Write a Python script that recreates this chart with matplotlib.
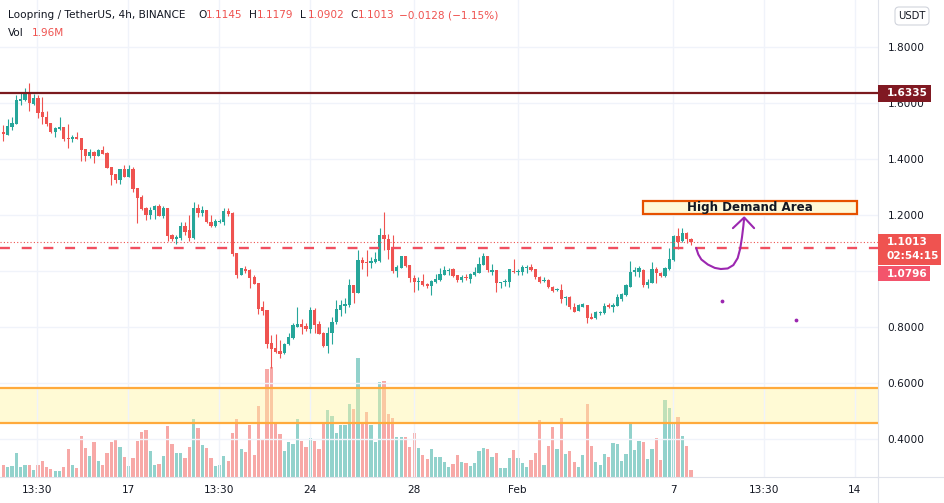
import numpy as np
import matplotlib.pyplot as plt
from matplotlib.patches import Rectangle, FancyBboxPatch
from matplotlib.lines import Line2D
from matplotlib.transforms import IdentityTransform

# ---- LRC/USDT 4h candles ----
opens = [1.496, 1.485, 1.514, 1.524, 1.607, 1.610, 1.636, 1.595, 1.616, 1.567,
         1.550, 1.529, 1.496, 1.505, 1.514, 1.474, 1.471, 1.476, 1.474, 1.433,
         1.410, 1.425, 1.410, 1.431, 1.421, 1.369, 1.345, 1.324, 1.363, 1.336,
         1.363, 1.294, 1.264, 1.225, 1.199, 1.217, 1.231, 1.195, 1.225, 1.127,
         1.113, 1.118, 1.159, 1.145, 1.118, 1.223, 1.207, 1.217, 1.174, 1.161,
         1.174, 1.174, 1.212, 1.207, 1.062, 0.984, 1.006, 1.002, 0.976, 0.956,
         0.869, 0.859, 0.740, 0.723, 0.713, 0.705, 0.737, 0.758, 0.800, 0.808,
         0.802, 0.792, 0.859, 0.809, 0.776, 0.731, 0.776, 0.815, 0.859, 0.875,
         0.877, 0.949, 0.921, 1.038, 1.032, 1.029, 1.032, 1.035, 1.127, 1.115,
         1.077, 0.999, 1.011, 1.052, 1.020, 0.975, 0.960, 0.964, 0.952, 0.945,
         0.960, 0.967, 0.985, 0.999, 1.005, 0.985, 0.967, 0.979, 0.970, 0.985,
         0.993, 1.020, 1.054, 0.996, 1.002, 0.955, 0.958, 0.959, 0.999, 0.994,
         0.996, 1.008, 1.014, 1.006, 0.978, 0.963, 0.967, 0.943, 0.930, 0.931,
         0.901, 0.907, 0.871, 0.857, 0.871, 0.877, 0.836, 0.830, 0.849, 0.849,
         0.877, 0.871, 0.874, 0.898, 0.913, 0.943, 0.996, 0.996, 1.002, 0.949,
         0.957, 1.006, 0.993, 0.981, 1.006, 1.038, 1.124, 1.106, 1.136, 1.1145]
highs = [1.520, 1.542, 1.550, 1.627, 1.633, 1.651, 1.669, 1.631, 1.627, 1.621,
         1.571, 1.529, 1.514, 1.550, 1.514, 1.524, 1.485, 1.494, 1.474, 1.433,
         1.435, 1.429, 1.435, 1.445, 1.425, 1.371, 1.347, 1.365, 1.377, 1.377,
         1.371, 1.294, 1.270, 1.229, 1.227, 1.235, 1.238, 1.231, 1.225, 1.131,
         1.127, 1.174, 1.174, 1.199, 1.244, 1.238, 1.231, 1.217, 1.199, 1.183,
         1.183, 1.223, 1.224, 1.209, 1.062, 1.008, 1.017, 1.005, 0.984, 0.956,
         0.892, 0.859, 0.770, 0.774, 0.752, 0.743, 0.778, 0.812, 0.869, 0.826,
         0.814, 0.869, 0.865, 0.821, 0.782, 0.800, 0.833, 0.895, 0.897, 0.901,
         0.969, 0.949, 1.074, 1.048, 1.074, 1.050, 1.068, 1.151, 1.208, 1.131,
         1.127, 1.020, 1.052, 1.052, 1.020, 0.985, 0.979, 0.988, 0.957, 0.967,
         0.988, 1.008, 1.017, 1.008, 1.008, 0.985, 0.985, 0.988, 0.993, 1.014,
         1.048, 1.062, 1.054, 1.024, 1.002, 0.961, 0.969, 1.005, 1.042, 1.005,
         1.020, 1.020, 1.024, 1.006, 0.981, 0.976, 0.969, 0.945, 0.937, 0.952,
         0.909, 0.909, 0.883, 0.880, 0.886, 0.877, 0.850, 0.856, 0.856, 0.886,
         0.883, 0.886, 0.917, 0.921, 0.951, 1.036, 1.012, 1.017, 1.006, 0.969,
         1.032, 1.014, 0.996, 1.012, 1.080, 1.127, 1.151, 1.151, 1.139, 1.1179]
lows = [1.463, 1.485, 1.502, 1.524, 1.592, 1.606, 1.571, 1.592, 1.546, 1.524,
        1.518, 1.493, 1.479, 1.502, 1.464, 1.438, 1.461, 1.469, 1.392, 1.392,
        1.404, 1.386, 1.410, 1.417, 1.366, 1.306, 1.312, 1.310, 1.333, 1.333,
        1.282, 1.169, 1.217, 1.181, 1.185, 1.185, 1.195, 1.189, 1.106, 1.106,
        1.095, 1.109, 1.127, 1.107, 1.112, 1.193, 1.195, 1.169, 1.155, 1.155,
        1.169, 1.164, 1.195, 1.053, 0.975, 0.984, 0.993, 0.939, 0.951, 0.844,
        0.842, 0.723, 0.652, 0.705, 0.687, 0.702, 0.734, 0.756, 0.798, 0.774,
        0.786, 0.778, 0.778, 0.774, 0.726, 0.707, 0.738, 0.809, 0.838, 0.850,
        0.869, 0.886, 0.919, 1.005, 0.981, 1.008, 1.026, 1.032, 1.074, 1.041,
        0.993, 0.979, 1.008, 1.014, 0.961, 0.925, 0.931, 0.945, 0.937, 0.913,
        0.955, 0.964, 0.985, 0.985, 0.976, 0.961, 0.961, 0.967, 0.957, 0.981,
        0.993, 1.020, 0.996, 0.985, 0.925, 0.937, 0.945, 0.941, 0.991, 0.985,
        0.984, 0.993, 0.999, 0.972, 0.957, 0.961, 0.937, 0.925, 0.928, 0.886,
        0.877, 0.862, 0.853, 0.857, 0.869, 0.812, 0.826, 0.829, 0.842, 0.845,
        0.865, 0.853, 0.874, 0.893, 0.909, 0.940, 0.981, 0.978, 0.943, 0.937,
        0.957, 0.955, 0.976, 0.976, 1.002, 1.036, 1.076, 1.103, 1.098, 1.0902]
closes = [1.487, 1.517, 1.529, 1.610, 1.614, 1.636, 1.600, 1.616, 1.564, 1.550,
          1.524, 1.496, 1.511, 1.514, 1.470, 1.471, 1.479, 1.470, 1.431, 1.410,
          1.425, 1.410, 1.431, 1.417, 1.368, 1.342, 1.324, 1.363, 1.336, 1.363,
          1.291, 1.261, 1.220, 1.199, 1.217, 1.231, 1.195, 1.225, 1.125, 1.113,
          1.121, 1.159, 1.139, 1.118, 1.223, 1.205, 1.217, 1.174, 1.161, 1.176,
          1.177, 1.214, 1.202, 1.059, 0.984, 1.008, 0.999, 0.975, 0.952, 0.863,
          0.857, 0.738, 0.720, 0.708, 0.702, 0.738, 0.764, 0.806, 0.809, 0.800,
          0.792, 0.859, 0.806, 0.774, 0.731, 0.776, 0.815, 0.863, 0.877, 0.881,
          0.949, 0.921, 1.038, 1.029, 1.029, 1.035, 1.042, 1.127, 1.115, 1.074,
          0.999, 1.014, 1.052, 1.018, 0.973, 0.961, 0.963, 0.949, 0.945, 0.964,
          0.970, 0.988, 1.002, 1.002, 0.981, 0.967, 0.979, 0.974, 0.988, 0.996,
          1.024, 1.054, 1.002, 1.004, 0.955, 0.961, 0.962, 1.005, 0.994, 1.000,
          1.014, 1.014, 1.002, 0.976, 0.961, 0.967, 0.940, 0.928, 0.933, 0.899,
          0.907, 0.869, 0.853, 0.877, 0.880, 0.832, 0.827, 0.853, 0.853, 0.874,
          0.871, 0.877, 0.905, 0.917, 0.949, 0.996, 1.002, 1.008, 0.949, 0.961,
          1.006, 0.990, 0.981, 1.008, 1.042, 1.124, 1.103, 1.133, 1.115, 1.1013]
# volume in millions
volumes = [3.3, 2.7, 3.0, 6.6, 2.7, 3.4, 3.4, 1.9, 3.3, 4.4,
           2.7, 2.2, 1.6, 1.6, 2.7, 7.8, 3.3, 2.4, 11.4, 8.0,
           5.8, 9.7, 4.4, 3.3, 6.6, 9.7, 10.3, 8.3, 5.5, 3.0,
           5.2, 10.0, 12.5, 13.1, 7.2, 3.3, 3.6, 5.8, 14.2, 9.2,
           6.6, 6.6, 5.2, 8.3, 16.2, 13.6, 8.9, 8.0, 5.2, 3.0,
           3.3, 5.8, 4.4, 12.2, 16.2, 7.8, 6.9, 14.5, 6.1, 19.8,
           10.6, 30.2, 30.7, 15.3, 12.0, 7.2, 9.7, 9.2, 16.2, 10.0,
           8.3, 10.8, 10.0, 7.8, 15.3, 18.7, 17.0, 12.2, 14.5, 14.6,
           20.4, 19.0, 33.3, 15.1, 18.2, 14.6, 9.8, 26.6, 26.9, 17.6,
           16.5, 11.2, 11.2, 11.2, 8.4, 12.3, 8.1, 6.2, 5.0, 7.8,
           5.6, 5.6, 4.2, 2.8, 3.6, 6.2, 4.2, 3.9, 3.1, 3.9,
           7.3, 8.1, 7.8, 5.6, 6.7, 2.5, 2.5, 5.3, 7.6, 5.3,
           3.9, 2.8, 4.8, 6.7, 16.0, 3.4, 8.7, 14.0, 7.8, 16.5,
           6.4, 7.3, 4.2, 2.8, 6.2, 20.4, 8.7, 4.2, 3.4, 6.4,
           5.6, 9.5, 9.2, 4.5, 6.4, 15.1, 7.6, 10.1, 9.8, 5.0,
           7.8, 10.9, 4.8, 21.6, 19.3, 15.4, 16.8, 11.5, 8.7, 1.96]

# time axis: candle index of Jan 17 00:00, 6 candles per day
jan17_index = 28.9
candles_per_day = 6
tick_days = [-3.5, 0, 3.5, 7, 11, 15, 21, 24.5, 28]
tick_labels = ['13:30', '17', '13:30', '24', '28', 'Feb', '7', '13:30', '14']
price_ticks = [0.4, 0.6, 0.8, 1.0, 1.2, 1.4, 1.6, 1.8]

resistance = 1.6335
support = 1.0796
last_price = 1.1013
countdown = '02:54:15'
demand_zone = [0.456, 0.581]
target_x = [147.9, 197.4]
target_y = [1.2025, 1.250]
arrow_x = [160.2, 160.7, 161.4, 162.9, 164.5, 165.9, 167.5, 168.8, 169.8, 170.4, 170.8, 171.1, 171.3]
arrow_y = [1.081, 1.058, 1.040, 1.022, 1.010, 1.006, 1.008, 1.020, 1.045, 1.080, 1.120, 1.158, 1.188]
arrow_head_x = [168.7, 171.3, 173.6]
arrow_head_y = [1.152, 1.190, 1.152]
dots_x = [166.1, 183.2]
dots_y = [0.892, 0.824]

GREEN = '#26a69a'
RED = '#ef5350'
TXT = '#131722'
W, H = 945, 503
PLOT_R, PLOT_B = 878, 477

fig = plt.figure(figsize=(W / 100, H / 100), dpi=100, facecolor='white')
vax = fig.add_axes([0, 1 - PLOT_B / H, PLOT_R / W, PLOT_B / H])
ax = fig.add_axes(vax.get_position(), sharex=vax)
ax.set_zorder(2)
vax.set_zorder(1)
ax.patch.set_visible(False)

x = np.arange(len(opens))
o = np.array(opens)
c = np.array(closes)
up = c >= o
colors = np.where(up, GREEN, RED)
vcolors = np.where(up, '#92d2cc', '#f7a9a7')

# volume
vax.bar(x, volumes, width=0.75, color=vcolors, linewidth=0)
vax.set_ylim(0, 0.28 * PLOT_B)
vax.set_yticks([])
for s in vax.spines.values():
    s.set_visible(False)
vax.tick_params(axis='x', length=0, labelbottom=False)

# grid
ax.set_xlim(-0.76, (PLOT_R - 3.3) / 4.325)
ax.set_ylim(0.263, 1.967)
ax.set_xticks(jan17_index + np.array(tick_days) * candles_per_day)
ax.set_xticklabels(tick_labels)
ax.set_yticks(price_ticks)
# 1.0000 sits under the 1.0796 label box, so it is left blank
ax.set_yticklabels(['' if abs(p - 1.0) < 1e-9 else '%.4f' % p for p in price_ticks])
ax.yaxis.tick_right()
ax.tick_params(axis='both', length=0, labelsize=7.6, labelcolor=TXT)
ax.tick_params(axis='y', pad=7)
ax.tick_params(axis='x', pad=6)
ax.grid(True, color='#f0f3fa', linewidth=1.0, zorder=0)
for k, s in ax.spines.items():
    s.set_visible(k in ('right', 'bottom'))
    s.set_color('#e0e3eb')

# demand zone
ax.axhspan(demand_zone[0], demand_zone[1], facecolor='#fff59d', alpha=0.42, linewidth=0, zorder=1)
for lvl in demand_zone:
    ax.axhline(lvl, color='#ffaa3c', linewidth=1.6, zorder=2)

# candles
ax.vlines(x, lows, highs, colors=colors, linewidth=0.8, zorder=3)
ax.bar(x, np.maximum(np.abs(c - o), 0.003), bottom=np.minimum(o, c), width=0.75,
       color=colors, linewidth=0, zorder=4)

# levels
ax.axhline(resistance, color='#7b1a1e', linewidth=1.6, zorder=5)
ax.axhline(support, color='#f04f60', linewidth=1.7, linestyle=(0, (4.2, 5.0)), zorder=5)
ax.axhline(last_price, color=RED, linewidth=0.8, linestyle=(0, (1, 2)), zorder=5)

# target box + arrow
ax.add_patch(Rectangle((target_x[0], target_y[0]), target_x[1] - target_x[0],
                       target_y[1] - target_y[0], facecolor='#fff9d8',
                       edgecolor='#e65100', linewidth=1.6, zorder=6))
ax.text(np.mean(target_x), np.mean(target_y), 'High Demand Area', ha='center',
        va='center', fontsize=8.6, fontweight='bold', color=TXT, zorder=7)
ax.plot(arrow_x, arrow_y, color='#9c27b0', linewidth=1.5, solid_capstyle='round', zorder=6)
ax.plot(arrow_head_x, arrow_head_y, color='#9c27b0', linewidth=1.5,
        solid_capstyle='round', solid_joinstyle='round', zorder=6)
ax.scatter(dots_x, dots_y, s=3, color='#9c27b0', zorder=6)

# pixel helpers (y from top)
ident = IdentityTransform()


def price_px(p):
    return H - ax.transData.transform((0, p))[1]


def box(x0, y0, w, h, color):
    fig.patches.append(Rectangle((x0, H - y0 - h), w, h, transform=ident,
                                 facecolor=color, linewidth=0, zorder=10))


def ftext(px, py, s, **kw):
    fig.text(px / W, 1 - py / H, s, zorder=11, **kw)


# right-side price labels
lk = dict(color='white', fontsize=7.6, fontweight='bold', va='center')
yr = price_px(resistance)
box(PLOT_R, yr - 8.3, 53, 16.6, '#801922')
ftext(887, yr, '%.4f' % resistance, **lk)

yl = price_px(last_price)
box(PLOT_R, yl - 8.3, 63, 31, '#ef5350')
ftext(887, yl, '%.4f' % last_price, **lk)
ftext(887, yl + 14, countdown, **lk)

ys = yl + 31.2
box(PLOT_R, ys - 7.5, 52, 15, '#f3546c')
ftext(887, ys, '%.4f' % support, **lk)

# axis frame lines outside plot
fig.lines.append(Line2D([PLOT_R, W], [H - PLOT_B, H - PLOT_B], transform=ident, color='#e0e3eb', linewidth=0.8))
fig.lines.append(Line2D([PLOT_R, PLOT_R], [0, H - PLOT_B], transform=ident, color='#e0e3eb', linewidth=0.8))

# USDT badge
fig.patches.append(FancyBboxPatch((895, H - 25), 34, 18, transform=ident,
                                  boxstyle='round,pad=0,rounding_size=4',
                                  facecolor='white', edgecolor='#d1d4dc', linewidth=0.8, zorder=10))
ftext(912, 16, 'USDT', color=TXT, fontsize=7.2, ha='center', va='center')

# header
hk = dict(fontsize=7.6, va='center')
ftext(8, 15, 'Loopring / TetherUS, 4h, BINANCE', color=TXT, **hk)
for lx, lab, val in [(198, 'O', opens[-1]), (249, 'H', highs[-1]),
                     (300, 'L', lows[-1]), (350, 'C', closes[-1])]:
    ftext(lx, 15, lab, color=TXT, **hk)
    ftext(lx + 8, 15, '%.4f' % val, color=RED, **hk)
ftext(399, 15, '\u22120.0128 (\u22121.15%)', color=RED, **hk)
ftext(8, 33, 'Vol', color=TXT, **hk)
ftext(32, 33, '%.2fM' % volumes[-1], color=RED, **hk)

fig.savefig('out.png', dpi=100, facecolor='white')
